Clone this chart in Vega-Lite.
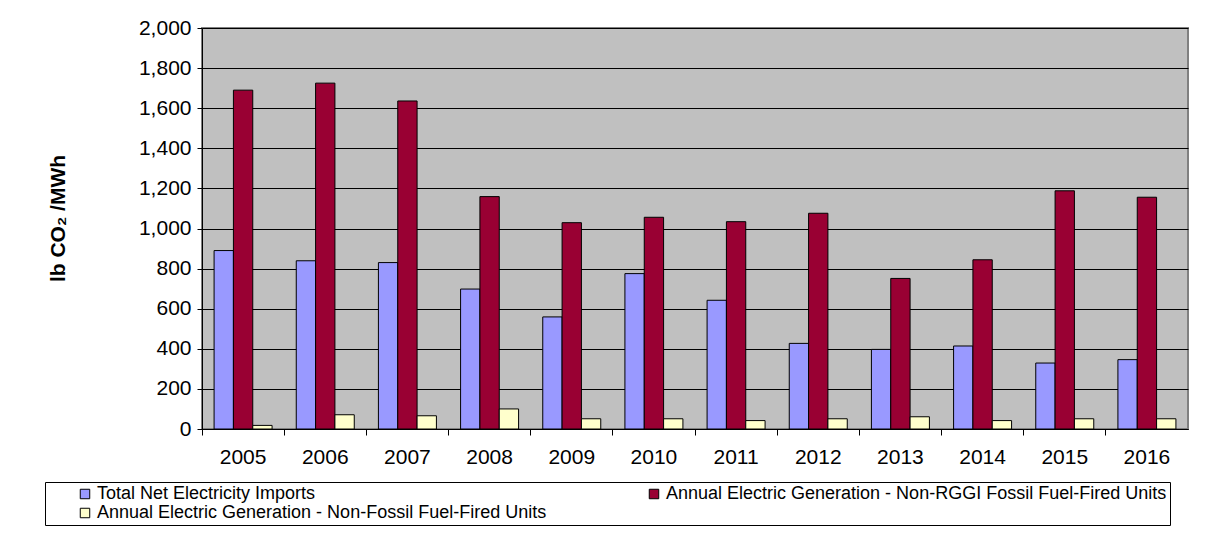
{
  "$schema": "https://vega.github.io/schema/vega-lite/v6.json",
  "width": 986,
  "height": 401,
  "autosize": {"type": "none"},
  "padding": {"left": 202, "top": 28, "right": 35, "bottom": 104},
  "background": "white",
  "data": {"values": [
    {"year": "2005", "series": "Total Net Electricity Imports", "value": 890},
    {"year": "2005", "series": "Annual Electric Generation - Non-RGGI Fossil Fuel-Fired Units", "value": 1690},
    {"year": "2005", "series": "Annual Electric Generation - Non-Fossil Fuel-Fired Units", "value": 18},
    {"year": "2006", "series": "Total Net Electricity Imports", "value": 839},
    {"year": "2006", "series": "Annual Electric Generation - Non-RGGI Fossil Fuel-Fired Units", "value": 1725},
    {"year": "2006", "series": "Annual Electric Generation - Non-Fossil Fuel-Fired Units", "value": 71},
    {"year": "2007", "series": "Total Net Electricity Imports", "value": 830},
    {"year": "2007", "series": "Annual Electric Generation - Non-RGGI Fossil Fuel-Fired Units", "value": 1636},
    {"year": "2007", "series": "Annual Electric Generation - Non-Fossil Fuel-Fired Units", "value": 66},
    {"year": "2008", "series": "Total Net Electricity Imports", "value": 698},
    {"year": "2008", "series": "Annual Electric Generation - Non-RGGI Fossil Fuel-Fired Units", "value": 1159},
    {"year": "2008", "series": "Annual Electric Generation - Non-Fossil Fuel-Fired Units", "value": 100},
    {"year": "2009", "series": "Total Net Electricity Imports", "value": 559},
    {"year": "2009", "series": "Annual Electric Generation - Non-RGGI Fossil Fuel-Fired Units", "value": 1029},
    {"year": "2009", "series": "Annual Electric Generation - Non-Fossil Fuel-Fired Units", "value": 51},
    {"year": "2010", "series": "Total Net Electricity Imports", "value": 775},
    {"year": "2010", "series": "Annual Electric Generation - Non-RGGI Fossil Fuel-Fired Units", "value": 1056},
    {"year": "2010", "series": "Annual Electric Generation - Non-Fossil Fuel-Fired Units", "value": 51},
    {"year": "2011", "series": "Total Net Electricity Imports", "value": 642},
    {"year": "2011", "series": "Annual Electric Generation - Non-RGGI Fossil Fuel-Fired Units", "value": 1034},
    {"year": "2011", "series": "Annual Electric Generation - Non-Fossil Fuel-Fired Units", "value": 42},
    {"year": "2012", "series": "Total Net Electricity Imports", "value": 427},
    {"year": "2012", "series": "Annual Electric Generation - Non-RGGI Fossil Fuel-Fired Units", "value": 1076},
    {"year": "2012", "series": "Annual Electric Generation - Non-Fossil Fuel-Fired Units", "value": 51},
    {"year": "2013", "series": "Total Net Electricity Imports", "value": 397},
    {"year": "2013", "series": "Annual Electric Generation - Non-RGGI Fossil Fuel-Fired Units", "value": 751},
    {"year": "2013", "series": "Annual Electric Generation - Non-Fossil Fuel-Fired Units", "value": 61},
    {"year": "2014", "series": "Total Net Electricity Imports", "value": 414},
    {"year": "2014", "series": "Annual Electric Generation - Non-RGGI Fossil Fuel-Fired Units", "value": 844},
    {"year": "2014", "series": "Annual Electric Generation - Non-Fossil Fuel-Fired Units", "value": 42},
    {"year": "2015", "series": "Total Net Electricity Imports", "value": 329},
    {"year": "2015", "series": "Annual Electric Generation - Non-RGGI Fossil Fuel-Fired Units", "value": 1188},
    {"year": "2015", "series": "Annual Electric Generation - Non-Fossil Fuel-Fired Units", "value": 51},
    {"year": "2016", "series": "Total Net Electricity Imports", "value": 346},
    {"year": "2016", "series": "Annual Electric Generation - Non-RGGI Fossil Fuel-Fired Units", "value": 1156},
    {"year": "2016", "series": "Annual Electric Generation - Non-Fossil Fuel-Fired Units", "value": 51}
  ]},
  "mark": {"type": "bar", "stroke": "black", "strokeWidth": 1},
  "encoding": {
    "x": {
      "field": "year", "type": "nominal", "title": null,
      "scale": {"paddingInner": 0, "paddingOuter": 0},
      "axis": {
        "labelAngle": 0, "labelFontSize": 21, "labelColor": "black", "labelPadding": 11,
        "domainColor": "black", "tickColor": "black", "tickSize": 6, "bandPosition": 0,
        "labelFont": "Liberation Sans"
      }
    },
    "xOffset": {
      "field": "series", "type": "nominal",
      "scale": {
        "domain": ["Total Net Electricity Imports", "Annual Electric Generation - Non-RGGI Fossil Fuel-Fired Units", "Annual Electric Generation - Non-Fossil Fuel-Fired Units"],
        "paddingInner": 0, "paddingOuter": 0.625
      }
    },
    "y": {
      "field": "value", "type": "quantitative",
      "title": "lb CO₂ /MWh",
      "scale": {"domain": [0, 2000], "nice": false},
      "axis": {
        "values": [0, 200, 400, 600, 800, 1000, 1200, 1400, 1600, 1800, 2000],
        "format": ",.0f", "labelFontSize": 21, "labelColor": "black", "labelFont": "Liberation Sans",
        "labelPadding": 6,
        "domainColor": "black", "tickColor": "black", "tickSize": 5,
        "grid": true, "gridColor": "black", "gridWidth": 1, "gridOpacity": 1,
        "titleFontSize": 21, "titleFont": "Liberation Sans", "titleFontWeight": "bold", "titleColor": "black",
        "titlePadding": 70, "titleY": 190
      }
    },
    "color": {
      "field": "series", "type": "nominal",
      "scale": {
        "domain": ["Total Net Electricity Imports", "Annual Electric Generation - Non-Fossil Fuel-Fired Units", "Annual Electric Generation - Non-RGGI Fossil Fuel-Fired Units"],
        "range": ["#9999FF", "#FFFFCC", "#990033"]
      },
      "legend": {
        "title": null, "orient": "none", "legendX": -157, "legendY": 454,
        "columns": 2, "columnPadding": 70, "rowPadding": 1,
        "labelFontSize": 18, "labelFont": "Liberation Sans", "labelColor": "black", "labelLimit": 700,
        "symbolType": "square", "symbolSize": 90, "symbolStrokeColor": "black", "symbolStrokeWidth": 1,
        "symbolOpacity": 1, "symbolOffset": 28, "labelOffset": 3,
        "strokeColor": "black", "padding": 3, "fillColor": "white"
      }
    }
  },
  "config": {
    "view": {"fill": "#C0C0C0", "stroke": "#808080", "strokeWidth": 2},
    "axis": {"labelFont": "Liberation Sans"}
  }
}
